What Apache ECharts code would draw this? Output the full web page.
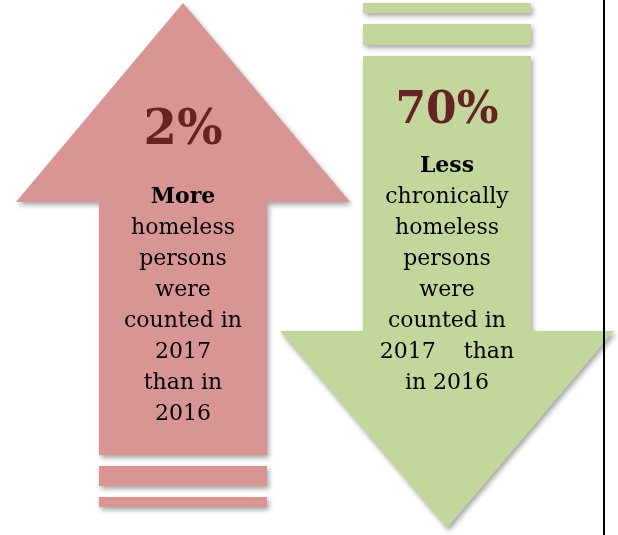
<!DOCTYPE html>
<html>
<head>
<meta charset="utf-8">
<script src="https://cdn.jsdelivr.net/npm/echarts@6/dist/echarts.min.js"></script>
<style>
html,body{margin:0;padding:0;background:#fff;}
#chart{width:618px;height:535px;}
</style>
</head>
<body>
<div id="chart"></div>
<script>
// Data
const percentLabels = ['2%', '70%'];
const directions = ['up', 'down'];
const headlines = ['More', 'Less'];
const bodyLines = [
  ['homeless', 'persons', 'were', 'counted in', '2017', 'than in', '2016'],
  ['chronically', 'homeless', 'persons', 'were', 'counted in', '2017    than', 'in 2016']
];
const arrowColors = ['#d99594', '#c3d69b'];

const chart = echarts.init(document.getElementById('chart'));
const shadow = {shadowBlur: 5, shadowOffsetX: 2, shadowOffsetY: 3, shadowColor: 'rgba(0,0,0,0.35)'};
const FONT = '"DejaVu Serif", serif';

// layout for each arrow
const layouts = [
  {cx: 183, shaftL: 99, shaftR: 267, headL: 16, headR: 350, tip: 3, headBase: 202, shaftEnd: 455,
   stripes: [[466, 486], [497, 507]], pctY: 132, pctSize: 48, textY: 197},
  {cx: 447, shaftL: 363, shaftR: 531, headL: 280, headR: 614, tip: 528, headBase: 331, shaftEnd: 56,
   stripes: [[3, 13], [24, 45]], pctY: 112, pctSize: 44, textY: 166}
];

const graphics = [];
directions.forEach(function (dir, i) {
  const L = layouts[i];
  const color = arrowColors[i];
  L.stripes.forEach(function (s) {
    graphics.push({type: 'rect', shape: {x: L.shaftL, y: s[0], width: L.shaftR - L.shaftL, height: s[1] - s[0]},
      style: Object.assign({fill: color}, shadow), z: 1});
  });
  const pts = [[L.cx, L.tip], [L.headR, L.headBase], [L.shaftR, L.headBase], [L.shaftR, L.shaftEnd],
               [L.shaftL, L.shaftEnd], [L.shaftL, L.headBase], [L.headL, L.headBase]];
  graphics.push({type: 'polygon', shape: {points: pts}, style: Object.assign({fill: color}, shadow), z: 1});
  graphics.push({type: 'text', x: L.cx, y: L.pctY, z: 5,
    style: {text: percentLabels[i], fill: '#632423', font: 'bold ' + L.pctSize + 'px ' + FONT, align: 'center', verticalAlign: 'middle'}});
  const lines = ['{b|' + headlines[i] + '}'].concat(bodyLines[i].map(function (t) { return '{n|' + t + '}'; }));
  graphics.push({type: 'text', x: L.cx, y: L.textY - 15.5, z: 5,
    style: {text: lines.join('\n'), align: 'center', verticalAlign: 'top', fill: '#000',
      rich: {
        b: {font: 'bold 22px ' + FONT, lineHeight: 31, fill: '#000', align: 'center'},
        n: {font: '22px ' + FONT, lineHeight: 31, fill: '#000', align: 'center'}
      }}});
});
graphics.push({type: 'line', shape: {x1: 604, y1: 0, x2: 604, y2: 535}, style: {stroke: '#000', lineWidth: 2}, z: 10});

chart.setOption({animation: false, graphic: graphics});
</script>
</body>
</html>
